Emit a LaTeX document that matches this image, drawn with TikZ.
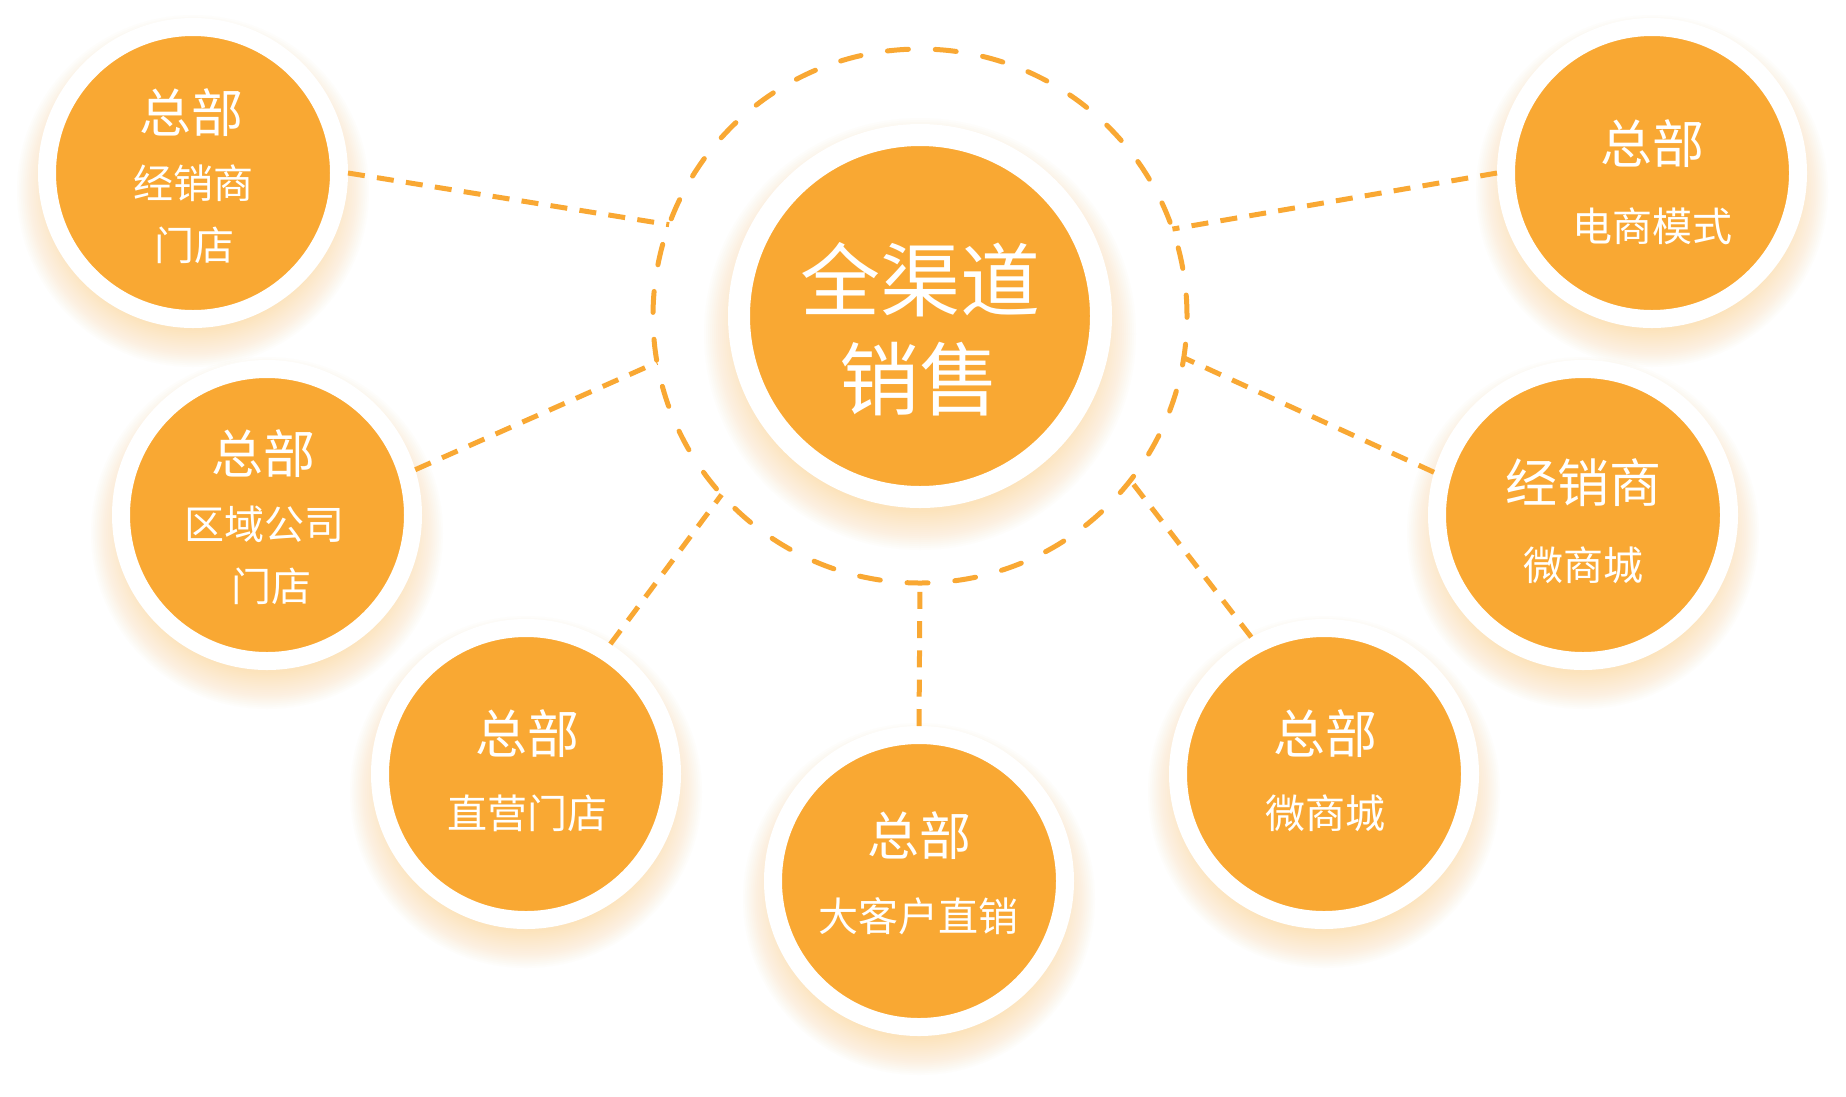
\documentclass[tikz,border=0pt]{standalone}
\usepackage{fontspec}
\newfontfamily\cjk{Noto Sans CJK SC}
\definecolor{org}{RGB}{249,168,51}
\definecolor{glowc}{RGB}{252,204,118}
\begin{document}
\begin{tikzpicture}[x=1pt,y=-1pt,
  sat/.style={circle, fill=org, draw=white, line width=18pt, minimum size=292pt, inner sep=0pt, outer sep=9pt},
  hub/.style={circle, fill=org, draw=white, line width=22pt, minimum size=362pt, inner sep=0pt, outer sep=11pt},
  ringc/.style={circle, draw=org, line width=5pt, dash pattern=on 21pt off 26.9pt, line cap=round, minimum size=534pt, inner sep=0pt, outer sep=0pt},
  link/.style={draw=org, line width=5pt, dash pattern=on 17pt off 12.3pt},
  bigtxt/.style={text=white, font=\cjk\fontsize{52}{60}\selectfont, inner sep=0pt},
  smalltxt/.style={text=white, font=\cjk\fontsize{40}{48}\selectfont, inner sep=0pt},
  hugetxt/.style={text=white, font=\cjk\fontsize{80}{96}\selectfont, inner sep=0pt}]
\fill[white] (0,0) rectangle (1846,1096);
\useasboundingbox (0,0) rectangle (1846,1096);
% centres
\coordinate (pC) at (920,316);
\coordinate (pTL) at (193,173);
\coordinate (pTR) at (1652,173);
\coordinate (pML) at (267,515);
\coordinate (pMR) at (1583,515);
\coordinate (pBL) at (526,774);
\coordinate (pBR) at (1324,774);
\coordinate (pB) at (919,881);
% glows
\foreach \c in {pTL,pTR,pML,pMR,pBL,pBR,pB}{
  \foreach \k in {1,...,20}
    \fill[glowc, opacity=0.028] ([yshift=-18pt]\c) circle ({138pt+1.9pt*\k});
}
\foreach \k in {1,...,20}
  \fill[glowc, opacity=0.028] ([yshift=-18pt]pC) circle ({176pt+2pt*\k});
% dashed ring
\node[ringc] (ring) at (pC) {};
% hub and satellites
\node[hub] (hub) at (pC) {};
\node[sat] (tl) at (pTL) {};
\node[sat] (tr) at (pTR) {};
\node[sat] (ml) at (pML) {};
\node[sat] (mr) at (pMR) {};
\node[sat] (bl) at (pBL) {};
\node[sat] (br) at (pBR) {};
\node[sat] (b) at (pB) {};
% connectors
\draw[link] (tl.east) -- (ring.160);
\draw[link] (tr.west) -- (ring.19);
\draw[link] (ml.17) -- (ring.190);
\draw[link] (mr.164) -- (ring.-9);
\draw[link] (bl.57) -- (ring.222);
\draw[link] (br.118) -- (ring.-38);
\draw[link] (b.north) -- (ring.270);
% texts
\node[hugetxt] (c1) at (920,280) {全渠道};
\node[hugetxt] (c2) at (919,379) {销售};
\node[bigtxt] (tl1) at (191,113) {总部};
\node[smalltxt] (tl2) at (193,183) {经销商};
\node[smalltxt] (tl3) at (194,245) {门店};
\node[bigtxt] (tr1) at (1652,144) {总部};
\node[smalltxt] (tr2) at (1652,226) {电商模式};
\node[bigtxt] (ml1) at (263,454) {总部};
\node[smalltxt] (ml2) at (264,524) {区域公司};
\node[smalltxt] (ml3) at (271,586) {门店};
\node[bigtxt] (mr1) at (1583,483) {经销商};
\node[smalltxt] (mr2) at (1583,565) {微商城};
\node[bigtxt] (bl1) at (527,734) {总部};
\node[smalltxt] (bl2) at (527,813) {直营门店};
\node[bigtxt] (br1) at (1325,734) {总部};
\node[smalltxt] (br2) at (1325,813) {微商城};
\node[bigtxt] (b1) at (919,836) {总部};
\node[smalltxt] (b2) at (918,916) {大客户直销};
\end{tikzpicture}
\end{document}
